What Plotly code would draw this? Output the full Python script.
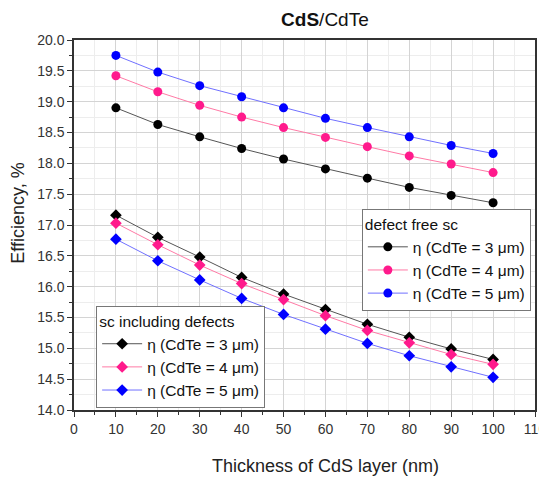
import plotly.graph_objects as go

thickness = [10, 20, 30, 40, 50, 60, 70, 80, 90, 100]

free_3um = [18.90, 18.63, 18.43, 18.24, 18.07, 17.91, 17.76, 17.61, 17.48, 17.36]
free_4um = [19.42, 19.16, 18.94, 18.75, 18.58, 18.42, 18.27, 18.12, 17.99, 17.85]
free_5um = [19.75, 19.48, 19.26, 19.08, 18.90, 18.73, 18.58, 18.43, 18.29, 18.16]

def_3um = [17.16, 16.80, 16.48, 16.15, 15.88, 15.63, 15.39, 15.18, 14.99, 14.82]
def_4um = [17.03, 16.68, 16.35, 16.05, 15.79, 15.53, 15.29, 15.09, 14.90, 14.74]
def_5um = [16.77, 16.42, 16.11, 15.81, 15.55, 15.31, 15.08, 14.88, 14.70, 14.53]

labels = ["η (CdTe = 3 μm)", "η (CdTe = 4 μm)", "η (CdTe = 5 μm)"]
marker_colors = ["#000000", "#ff1a8c", "#0000ff"]
line_colors = ["#555555", "#ff7aa6", "#7070ff"]

FONT = "Liberation Sans, Arial, sans-serif"

fig = go.Figure()
for name, ys, mc, lc in zip(labels, [free_3um, free_4um, free_5um], marker_colors, line_colors):
    fig.add_trace(go.Scatter(x=thickness, y=ys, name=name, mode="lines+markers",
                             line=dict(color=lc, width=1),
                             marker=dict(symbol="circle", size=9, color=mc),
                             legend="legend"))
for name, ys, mc, lc in zip(labels, [def_3um, def_4um, def_5um], marker_colors, line_colors):
    fig.add_trace(go.Scatter(x=thickness, y=ys, name=name, mode="lines+markers",
                             line=dict(color=lc, width=1),
                             marker=dict(symbol="diamond", size=9, color=mc),
                             legend="legend2"))

axis_common = dict(showline=True, linecolor="#333333", linewidth=1.5, mirror=True,
                   ticks="outside", ticklen=5, tickcolor="#333333", automargin=False,
                   showgrid=True, gridcolor="#d4d4d4", gridwidth=1, zeroline=False,
                   tickfont=dict(family=FONT, size=14, color="#333333"))

fig.update_xaxes(range=[0, 110], dtick=10, **axis_common,
                 minor=dict(dtick=5, showgrid=True, gridcolor="#ededed", ticks="outside", ticklen=3, tickcolor="#333333"))
fig.update_yaxes(range=[14, 20], dtick=0.5, tickformat=".1f", **axis_common,
                 minor=dict(dtick=0.25, showgrid=True, gridcolor="#ededed", ticks="outside", ticklen=3, tickcolor="#333333"))

legend_font = dict(family=FONT, size=15.5, color="#111111")
fig.update_layout(
    width=539, height=469,
    margin=dict(l=66, r=12, t=32, b=67),
    paper_bgcolor="white", plot_bgcolor="white",
    title=dict(text="<b>CdS</b>/CdTe", xref="container", x=0.588, xanchor="center",
               yref="container", y=0.976, yanchor="middle",
               font=dict(family=FONT, size=19, color="#111111")),
    annotations=[
        dict(text="Thickness of CdS layer (nm)", xref="paper", yref="paper",
             x=0.5445, y=-0.151, xanchor="center", yanchor="middle", showarrow=False,
             font=dict(family=FONT, size=18, color="#222222")),
        dict(text="Efficiency, %", xref="paper", yref="paper", textangle=-90,
             x=-0.1204, y=0.532, xanchor="center", yanchor="middle", showarrow=False,
             font=dict(family=FONT, size=18, color="#222222")),
    ],
    legend=dict(title=dict(text="defect free sc", font=legend_font), font=legend_font,
                x=0.991, xanchor="right", y=0.543, yanchor="top",
                bgcolor="white", bordercolor="#777777", borderwidth=1,
                tracegroupgap=0, itemwidth=40),
    legend2=dict(title=dict(text="sc including defects", font=legend_font), font=legend_font,
                 x=0.048, xanchor="left", y=0.0054, yanchor="bottom",
                 bgcolor="white", bordercolor="#777777", borderwidth=1,
                 tracegroupgap=0, itemwidth=40),
)

fig.write_html("out.html")
